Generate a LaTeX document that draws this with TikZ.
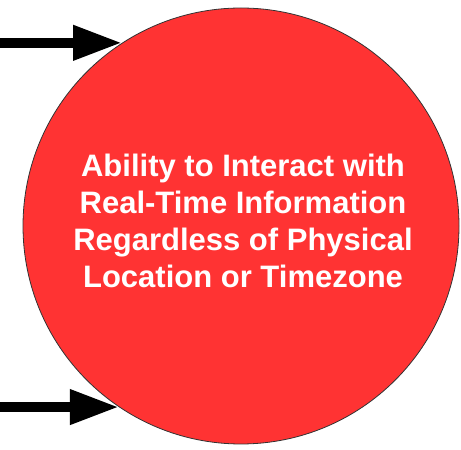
\documentclass[tikz,border=0pt]{standalone}
\usepackage{fontspec}
\setmainfont{Liberation Sans}
\usetikzlibrary{arrows.meta}
\definecolor{hubred}{RGB}{255,51,51}
\begin{document}
\begin{tikzpicture}[x=1pt, y=1pt, line cap=butt, line join=miter,
    feed/.style={line width=10pt, -{Triangle[length=49pt, width=33pt]}}]
    \tikzset{
        hub/.style={circle, draw=black!80, line width=0.8pt, fill=hubred,
            minimum size=436pt, inner sep=0pt},
        hubtext/.style={text=white, align=center,
            font=\fontsize{31}{37}\selectfont\bfseries}
    }
    % page frame
    \useasboundingbox (0,0) rectangle (461,450);
    \coordinate (edge) at (0,0);

    % the big circle
    \node[hub] (hub) at (241,224) {};
    \node[hubtext] (goal) at (243,229) {Ability to Interact with\\Real-Time Information\\Regardless of Physical\\Location or Timezone};

    % incoming arrows
    \draw[feed] (edge |- hub.123) -- (hub.123);
    \draw[feed] (edge |- hub.236) -- (hub.236);
\end{tikzpicture}
\end{document}
